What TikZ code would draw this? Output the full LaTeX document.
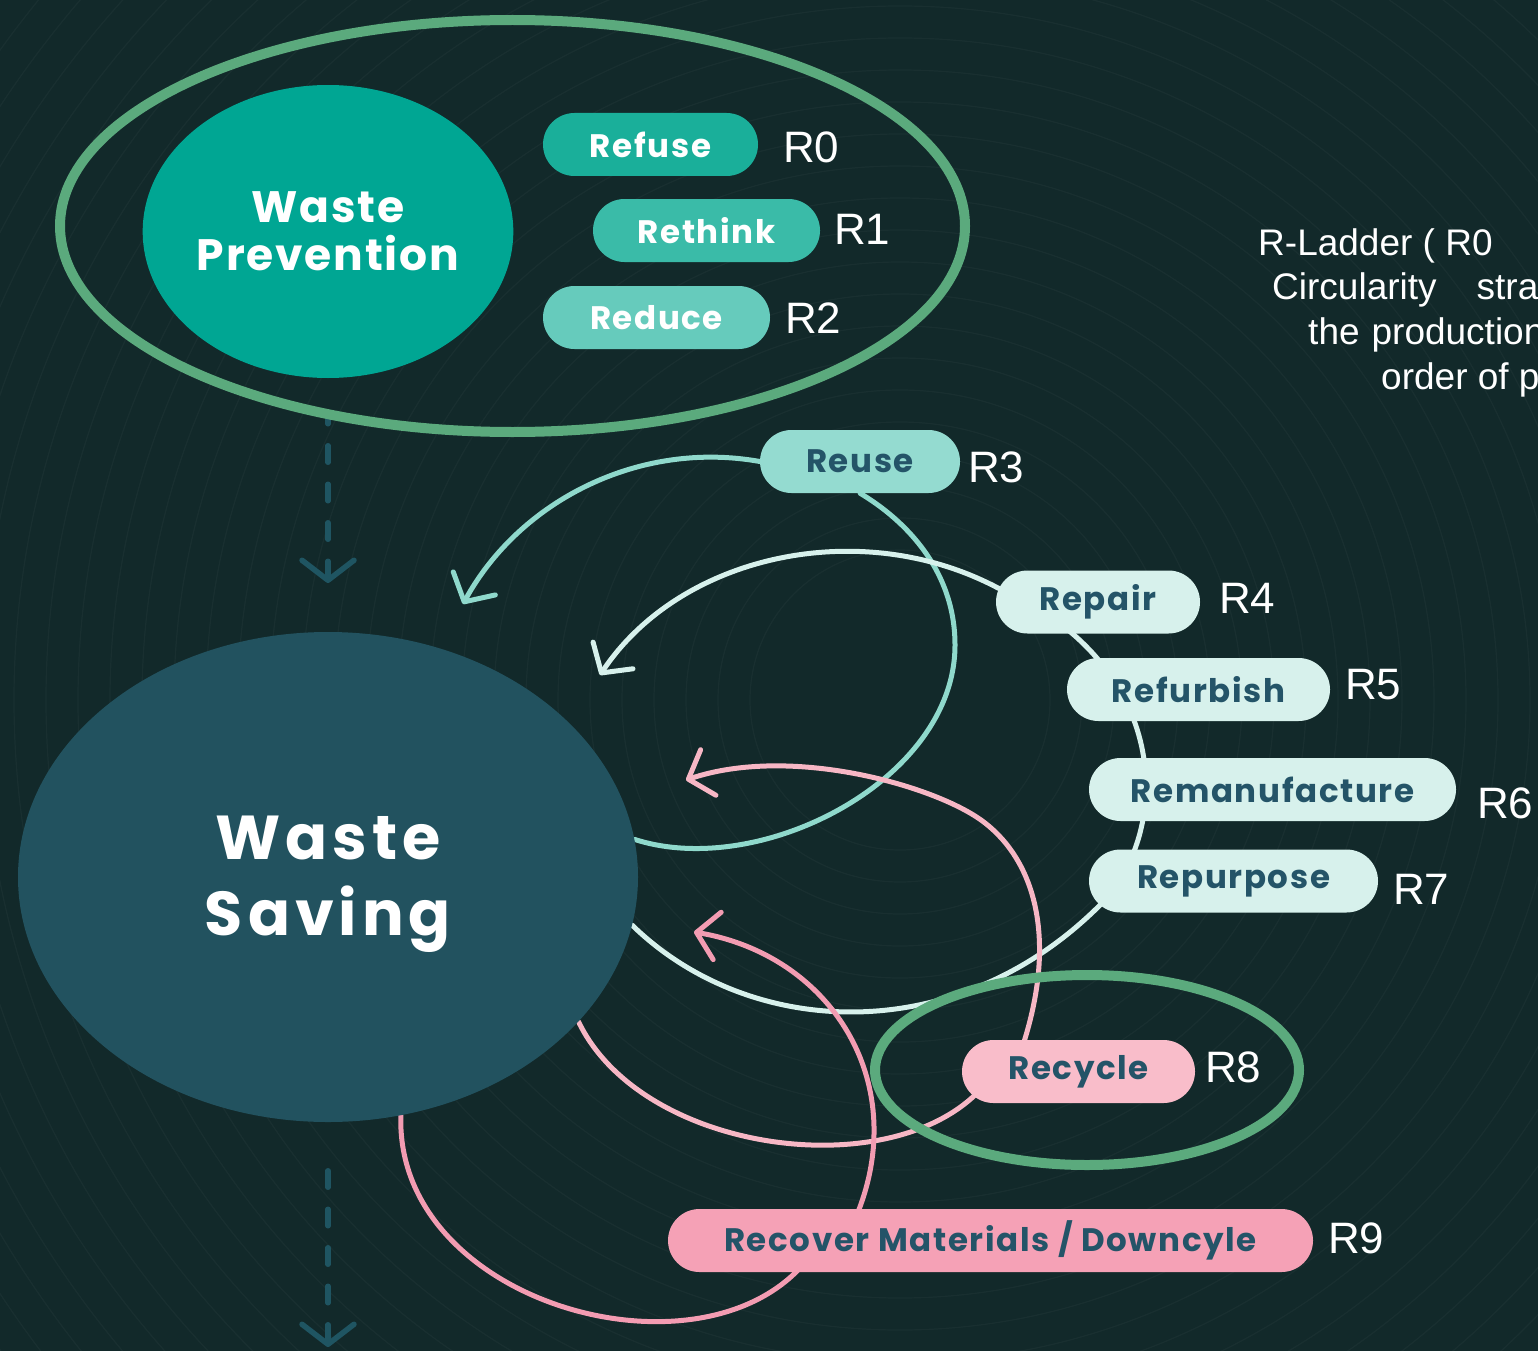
\documentclass[tikz,border=0pt]{standalone}
\usepackage{fontspec}
\setmainfont{Liberation Sans}
\newfontfamily\geo{Poppins}[LetterSpace=4]
\newfontfamily\geows{Poppins}[LetterSpace=8]
\newfontfamily\geopill{Poppins}[LetterSpace=5]
\usetikzlibrary{shapes.geometric,arrows.meta,calc}
\pgfdeclarelayer{back}
\pgfdeclarelayer{curves}
\pgfsetlayers{back,curves,main}
\definecolor{bgc}{HTML}{12292A}
\definecolor{ringc}{HTML}{5BAA7D}
\definecolor{wpc}{HTML}{00A693}
\definecolor{wsc}{HTML}{22525F}
\definecolor{refusec}{HTML}{1AAF9A}
\definecolor{rethinkc}{HTML}{3ABBA8}
\definecolor{reducec}{HTML}{66CBBC}
\definecolor{reusec}{HTML}{94DBD0}
\definecolor{lightc}{HTML}{D7F1EC}
\definecolor{recyclec}{HTML}{F9BDCA}
\definecolor{recoverc}{HTML}{F5A1B6}
\definecolor{darktxt}{HTML}{245468}
\definecolor{cthree}{HTML}{8FD9CC}
\definecolor{cfour}{HTML}{D7F1EC}
\definecolor{ceight}{HTML}{F7B7C5}
\definecolor{cnine}{HTML}{F39CB2}
\definecolor{dashc}{HTML}{1F5562}
\newcommand{\pillfnt}{\geopill\bfseries\fontsize{32.5}{32.5}\selectfont}
\begin{document}
\begin{tikzpicture}[x=1pt,y=-1pt,
  pill/.style={rectangle, rounded corners=31.5pt, minimum height=63pt, inner sep=0pt, font=\pillfnt},
  rlab/.style={anchor=west, inner sep=0pt, text=white, font=\fontsize{44}{44}\selectfont},
  note/.style={anchor=west, inner sep=0pt, text=white, font=\fontsize{37}{37}\selectfont},
  flow/.style={line width=5pt, line cap=round, line join=round},
  tipA/.style={-{Straight Barb[length=21pt,width=48pt,round]}},
  dashedarrow/.style={draw=dashc, line width=5.5pt, line cap=round, dash pattern=on 16.5pt off 22pt, -{Straight Barb[length=20pt,width=52pt,round]}},
  ring/.style={ellipse, draw=ringc, line width=10pt, inner sep=0pt}
]
\useasboundingbox (0,0) rectangle (1538,1351);
\begin{pgfonlayer}{back}
\fill[bgc] (0,0) rectangle (1538,1351);
\begin{scope}
\clip (0,0) rectangle (1538,1351);
\foreach \r in {150,182,...,1400} \draw[white, opacity=0.03, line width=1.2pt] (900,700) circle[radius=\r pt];
\end{scope}
\end{pgfonlayer}

% main ellipses
\node[ellipse, fill=wpc, minimum width=370pt, minimum height=293pt, inner sep=0pt, text=white, align=center,
  font=\geo\bfseries\fontsize{44}{48}\selectfont] (wp) at (328,231.5) {Waste\\Prevention};
\node[ellipse, fill=wsc, minimum width=620pt, minimum height=490pt, inner sep=0pt] (ws) at (328,877) {};
\node[text=white, align=center, inner sep=0pt, font=\geows\bfseries\fontsize{62}{76}\selectfont] (wstext) at (328,884) {Waste\\Saving};

% rings
\node[ring, minimum width=905pt, minimum height=412pt] (topring) at (512.5,226) {};
\node[ring, minimum width=424pt, minimum height=190pt] (recring) at (1087,1070) {};

% pills
\node[pill, fill=refusec, text=white, minimum width=215pt] (refuse) at (650.5,144.5) {Refuse};
\node[pill, fill=rethinkc, text=white, minimum width=227pt] (rethink) at (706.5,230.5) {Rethink};
\node[pill, fill=reducec, text=white, minimum width=227pt] (reduce) at (656.5,317.5) {Reduce};
\node[pill, fill=reusec, text=darktxt, minimum width=200pt] (reuse) at (860,461.5) {Reuse};
\node[pill, fill=lightc, text=darktxt, minimum width=204pt] (repair) at (1098,602) {Repair};
\node[pill, fill=lightc, text=darktxt, minimum width=263pt] (refurbish) at (1198.5,689.5) {Refurbish};
\node[pill, fill=lightc, text=darktxt, minimum width=367pt] (reman) at (1272.5,789.5) {Remanufacture};
\node[pill, fill=lightc, text=darktxt, minimum width=289pt] (repurpose) at (1233.5,881) {Repurpose};
\node[pill, fill=recyclec, text=darktxt, minimum width=233pt] (recycle) at (1078.5,1071.5) {Recycle};
\node[pill, fill=recoverc, text=darktxt, minimum width=645pt] (recover) at (990.5,1240.5) {Recover Materials / Downcyle};

% R labels
\node[rlab] (r0) at (783,147) {R0};
\node[rlab] (r1) at (834,229) {R1};
\node[rlab] (r2) at (785,318) {R2};
\node[rlab] (r3) at (968,467) {R3};
\node[rlab] (r4) at (1219,598) {R4};
\node[rlab] (r5) at (1345,685) {R5};
\node[rlab] (r6) at (1477,803) {R6};
\node[rlab] (r7) at (1393,889) {R7};
\node[rlab] (r8) at (1205,1067) {R8};
\node[rlab] (r9) at (1328,1238) {R9};

% side note (cut off at the right edge)
\node[note] (n1) at (1258,246) {R-Ladder ( R0};
\node[note] (n2) at (1272,290) {Circularity\hspace{40pt}stra};
\node[note] (n3) at (1308,335) {the\hspace{12pt}production};
\node[note] (n4) at (1381,380) {order of p};

% arrow tips / dashed ends
\coordinate (t3) at (463,604);
\coordinate (t4) at (600,675);
\coordinate (t8) at (686,780);
\coordinate (t9) at (694,932);
\coordinate (d1) at (328,412);
\coordinate (d2) at (328,583);
\coordinate (d3) at (328,1170.75);
\coordinate (d4) at (328,1347);

\begin{pgfonlayer}{curves}
\draw[flow, draw=cthree, tipA] (ws.7) .. controls (760,880) and (955,780) .. (955,645)
  .. controls (955,570) and (905,520) .. (reuse.south) -- (reuse.center) -- (reuse.west)
  .. controls (640,440) and (520,500) .. (t3);
\draw[flow, draw=cfour, tipA] (ws.-9) .. controls (750,1040) and (960,1050) .. (1105,900)
  .. controls (1175,820) and (1165,660) .. (998,588)
  .. controls (860,515) and (680,555) .. (t4);
\draw[flow, draw=ceight, tipA] (ws.-30) .. controls (640,1150) and (880,1185) .. (975,1095)
  -- (recycle.center) -- (1023,1045)
  .. controls (1060,930) and (1030,855) .. (981,820)
  .. controls (932,785) and (790,745) .. (t8);
\draw[flow, draw=cnine, tipA] (ws.-73) .. controls (395,1300) and (690,1385) .. (800,1268)
  -- (recover.center) -- (858,1212)
  .. controls (910,1080) and (830,955) .. (t9);
\draw[dashedarrow, dash phase=4.75pt] (d1) -- (d2);
\draw[dashedarrow] (d3) -- (d4);
\end{pgfonlayer}
\end{tikzpicture}
\end{document}
